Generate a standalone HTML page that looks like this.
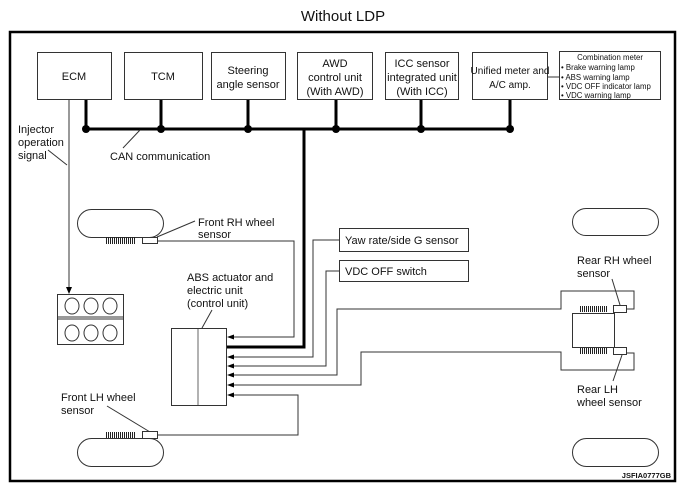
<!DOCTYPE html>
<html><head><meta charset="utf-8"><style>
html,body{margin:0;padding:0;background:#fff}
svg{display:block}
text{font-family:"Liberation Sans",Arial,sans-serif;fill:#111}
</style></head><body>
<svg width="686" height="492" viewBox="0 0 686 492" xmlns="http://www.w3.org/2000/svg">
<text x="343" y="21" font-size="15" text-anchor="middle">Without LDP</text>
<rect x="10" y="32" width="665" height="449" fill="none" stroke="#000" stroke-width="2.5"/>
<g fill="#fff" stroke="#333" stroke-width="1">
<rect x="37.5" y="52.5" width="74" height="47"/>
<rect x="124.5" y="52.5" width="78" height="47"/>
<rect x="211.5" y="52.5" width="74" height="47"/>
<rect x="297.5" y="52.5" width="75" height="47"/>
<rect x="385.5" y="52.5" width="73" height="47"/>
<rect x="472.5" y="52.5" width="75" height="47"/>
<rect x="559.5" y="51.5" width="101" height="48"/>
<rect x="339.5" y="228.5" width="129" height="23"/>
<rect x="339.5" y="260.5" width="129" height="21"/>
</g>
<g font-size="11" text-anchor="middle">
<text x="74" y="80">ECM</text>
<text x="163" y="80">TCM</text>
<text x="248" y="74">Steering</text><text x="248" y="88">angle sensor</text>
<text x="335" y="67">AWD</text><text x="335" y="81">control unit</text><text x="335" y="95">(With AWD)</text>
<text x="422" y="67">ICC sensor</text><text x="422" y="81">integrated unit</text><text x="422" y="95">(With ICC)</text>
<text x="510" y="74" font-size="10">Unified meter and</text><text x="510" y="88" font-size="10">A/C amp.</text>
</g>
<g font-size="7.8">
<text x="610" y="60" text-anchor="middle">Combination meter</text>
<text x="561" y="70">• Brake warning lamp</text>
<text x="561" y="80">• ABS warning lamp</text>
<text x="561" y="89">• VDC OFF indicator lamp</text>
<text x="561" y="98">• VDC warning lamp</text>
</g>
<line x1="548" y1="77" x2="559" y2="77" stroke="#333"/>
<g stroke="#000" stroke-width="3" fill="none">
<line x1="86" y1="129" x2="510" y2="129"/>
<line x1="86" y1="100" x2="86" y2="129"/>
<line x1="161" y1="100" x2="161" y2="129"/>
<line x1="248" y1="100" x2="248" y2="129"/>
<line x1="336" y1="100" x2="336" y2="129"/>
<line x1="421" y1="100" x2="421" y2="129"/>
<line x1="510" y1="100" x2="510" y2="129"/>
<polyline points="304,129 304,347 227,347"/>
</g>
<g fill="#000">
<circle cx="86" cy="129" r="4"/><circle cx="161" cy="129" r="4"/><circle cx="248" cy="129" r="4"/>
<circle cx="336" cy="129" r="4"/><circle cx="421" cy="129" r="4"/><circle cx="510" cy="129" r="4"/>
</g>
<g font-size="11">
<text x="110" y="160">CAN communication</text>
<text x="18" y="133">Injector</text><text x="18" y="146">operation</text><text x="18" y="159">signal</text>
<text x="198" y="226">Front RH wheel</text><text x="198" y="238">sensor</text>
<text x="187" y="281">ABS actuator and</text><text x="187" y="294">electric unit</text><text x="187" y="307">(control unit)</text>
<text x="61" y="401">Front LH wheel</text><text x="61" y="414">sensor</text>
<text x="345" y="244">Yaw rate/side G sensor</text>
<text x="345" y="275">VDC OFF switch</text>
<text x="577" y="264">Rear RH wheel</text><text x="577" y="277">sensor</text>
<text x="577" y="393">Rear LH</text><text x="577" y="406">wheel sensor</text>
</g>
<text x="671" y="478" font-size="7.5" font-weight="bold" text-anchor="end">JSFIA0777GB</text>
<g stroke="#333" stroke-width="1" fill="none">
<line x1="123" y1="148" x2="140" y2="130"/>
<line x1="48" y1="150" x2="67" y2="165"/>
<line x1="157" y1="237" x2="195" y2="221"/>
<line x1="202" y1="328" x2="212" y2="310"/>
<line x1="107" y1="406" x2="150" y2="432"/>
<line x1="612" y1="279" x2="620" y2="305"/>
<line x1="622" y1="355" x2="613" y2="381"/>
</g>
<line x1="69" y1="100" x2="69" y2="288" stroke="#999" stroke-width="2"/>
<polygon points="66,287 72,287 69,294" fill="#000"/>
<rect x="57.5" y="294.5" width="66" height="50" fill="#fff" stroke="#333"/>
<line x1="57" y1="317" x2="124" y2="317" stroke="#333"/><line x1="57" y1="319" x2="124" y2="319" stroke="#333"/>
<g fill="none" stroke="#333">
<ellipse cx="72" cy="306" rx="7" ry="8"/><ellipse cx="91" cy="306" rx="7" ry="8"/><ellipse cx="110" cy="306" rx="7" ry="8"/>
<ellipse cx="72" cy="333" rx="7" ry="8"/><ellipse cx="91" cy="333" rx="7" ry="8"/><ellipse cx="110" cy="333" rx="7" ry="8"/>
</g>
<g fill="#fff" stroke="#333">
<rect x="77.5" y="209.5" width="86" height="28" rx="14"/>
<rect x="77.5" y="438.5" width="86" height="28" rx="14"/>
<rect x="572.5" y="208.5" width="86" height="27" rx="13.5"/>
<rect x="572.5" y="438.5" width="86" height="28" rx="14"/>
<rect x="142.5" y="237.5" width="15" height="6"/>
<rect x="142.5" y="431.5" width="15" height="7"/>
<rect x="572.5" y="313.5" width="42" height="34"/>
<rect x="613.5" y="305.5" width="13" height="7"/>
<rect x="613.5" y="347.5" width="13" height="7"/>
</g>
<defs><pattern id="cm" width="2" height="4" patternUnits="userSpaceOnUse"><rect width="1" height="4" fill="#222"/></pattern></defs>
<rect x="106" y="237" width="29" height="7" fill="url(#cm)"/>
<rect x="106" y="432" width="29" height="6" fill="url(#cm)"/>
<rect x="579" y="306" width="29" height="6" fill="url(#cm)"/>
<rect x="579" y="348" width="29" height="6" fill="url(#cm)"/>
<rect x="171.5" y="328.5" width="55" height="77" fill="#fff" stroke="#333"/>
<line x1="198" y1="329" x2="198" y2="405" stroke="#999" stroke-width="1.5"/>
<g stroke="#333" fill="none">
<polyline points="157,241 294,241 294,337 230,337"/>
<polyline points="339,240 313,240 313,357 230,357"/>
<polyline points="339,271 326,271 326,366 230,366"/>
<polyline points="230,375 337,375 337,309 561,309 561,291 634,291 634,309 626,309"/>
<polyline points="230,385 361,385 361,352 561,352 561,370 634,370 634,353 626,353"/>
<polyline points="157,435 298,435 298,395 230,395"/>
</g>
<g fill="#000">
<polygon points="227,337 234,334.5 234,339.5"/>
<polygon points="227,357 234,354.5 234,359.5"/>
<polygon points="227,366 234,363.5 234,368.5"/>
<polygon points="227,375 234,372.5 234,377.5"/>
<polygon points="227,385 234,382.5 234,387.5"/>
<polygon points="227,395 234,392.5 234,397.5"/>
</g>
</svg>
</body></html>
